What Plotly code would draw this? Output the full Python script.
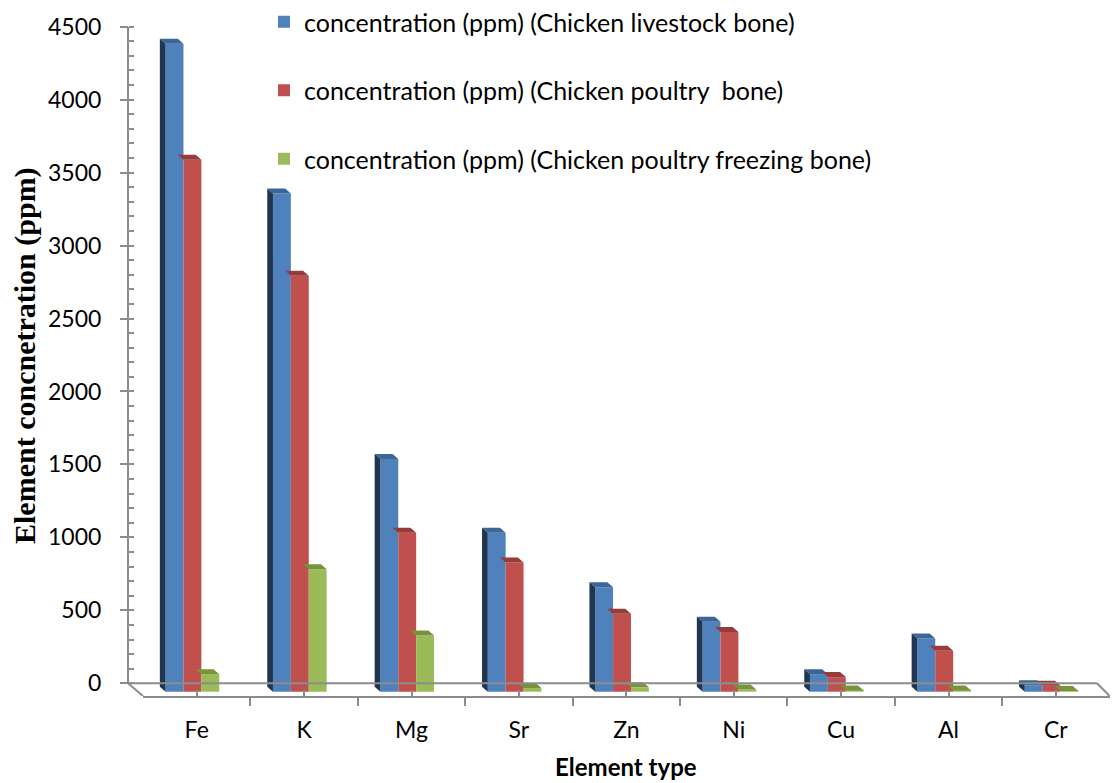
import plotly.graph_objects as go

# ---- data -------------------------------------------------------------
elements = ["Fe", "K", "Mg", "Sr", "Zn", "Ni", "Cu", "Al", "Cr"]
livestock = [4440, 3415, 1595, 1090, 715, 480, 120, 365, 45]
poultry = [3645, 2850, 1090, 885, 535, 410, 100, 280, 40]
freezing = [120, 840, 385, 25, 30, 15, 8, 8, 5]
y_ticks = [0, 500, 1000, 1500, 2000, 2500, 3000, 3500, 4000, 4500]

series_names = [
    "concentration (ppm) (Chicken livestock bone)",
    "concentration (ppm) (Chicken poultry  bone)",
    "concentration (ppm) (Chicken poultry freezing bone)",
]

# ---- geometry (pixels on a 1113 x 783 page, no margins) ---------------
W, H = 1113, 783
AXIS_X = 128.0           # vertical value axis
BACK_RIGHT_X = 1097.0    # right end of the back floor edge
PLOT_L, PLOT_R = 143.0, 1109.6
Y_ZERO, Y_TOP = 683.3, 26.7   # pixel rows of 0 and 4500 on the back wall
FLOOR_FRONT = 696.0           # front floor edge (category axis line)
BAR_BASE = 691.7              # front bottom of the columns
DEPTH_DX, DEPTH_DY = 5.7, 5.0 # column depth projection

k = (Y_ZERO - Y_TOP) / 4500.0
cat_px = (PLOT_R - PLOT_L) / len(elements)
y_range = [-(FLOOR_FRONT - Y_ZERO) / k, 4500]
shift = (BAR_BASE - Y_ZERO) / k
y2_range = [y_range[0] + shift, y_range[1] + shift]
dv = DEPTH_DY / k          # depth step in value units
dx = DEPTH_DX / cat_px     # depth step in category units

bar_w = 0.1667
offsets = [-0.29, -0.1233, 0.0433]
front_cols = ["#4F81BD", "#C0504D", "#9BBB59"]
top_cols = ["#3D6698", "#963C3A", "#77933C"]
side_col = "#1F3552"

FONT = "Lato"
GRAY = "#8C8C8C"

positions = list(range(len(elements)))
data = [livestock, poultry, freezing]
fig = go.Figure()


def top_face(vals, off):
    xs, ys = [], []
    for i, v in zip(positions, vals):
        x0 = i + off
        xs += [x0, x0 + bar_w, x0 + bar_w - dx, x0 - dx, x0, None]
        ys += [v, v, v + dv, v + dv, v, None]
    return xs, ys


def side_face(vals, off):
    xs, ys = [], []
    for i, v in zip(positions, vals):
        x0 = i + off
        xs += [x0, x0, x0 - dx, x0 - dx, x0, None]
        ys += [0, v, v + dv, dv, 0, None]
    return xs, ys


# top faces (drawn first so neighbouring front faces overlap them)
for vals, off, col, grp in zip(data, offsets, top_cols, range(3)):
    xs, ys = top_face(vals, off)
    fig.add_trace(go.Scatter(
        x=xs, y=ys, yaxis="y2", mode="lines", fill="toself",
        fillcolor=col, line=dict(width=0, color=col),
        showlegend=False, hoverinfo="skip", legendgroup=str(grp)))

# shaded left side of the first series
xs, ys = side_face(livestock, offsets[0])
fig.add_trace(go.Scatter(
    x=xs, y=ys, yaxis="y2", mode="lines", fill="toself",
    fillcolor=side_col, line=dict(width=0, color=side_col),
    showlegend=False, hoverinfo="skip", legendgroup="0"))

# front faces
for vals, off, col, name, grp in zip(data, offsets, front_cols, series_names, range(3)):
    fig.add_trace(go.Bar(
        x=positions, y=vals, offset=off, width=bar_w, yaxis="y2",
        name=name, marker=dict(color=col, line=dict(width=0)),
        legendgroup=str(grp)))

# floor outline and value axis line
px = lambda p: p / W
py = lambda p: 1 - p / H
shapes = [
    dict(type="line", xref="paper", yref="y", x0=px(AXIS_X), x1=px(AXIS_X), y0=0, y1=4500,
         line=dict(color=GRAY, width=2)),
    dict(type="line", xref="paper", yref="y", x0=px(AXIS_X), x1=px(BACK_RIGHT_X), y0=0, y1=0,
         line=dict(color=GRAY, width=2)),
    dict(type="line", xref="paper", yref="y", x0=px(AXIS_X), x1=px(PLOT_L), y0=0, y1=y_range[0],
         line=dict(color=GRAY, width=2)),
    dict(type="line", xref="paper", yref="y", x0=px(BACK_RIGHT_X), x1=px(PLOT_R), y0=0, y1=y_range[0],
         line=dict(color=GRAY, width=2)),
]

fig.update_layout(
    width=W, height=H,
    margin=dict(l=0, r=0, t=0, b=0, autoexpand=False),
    paper_bgcolor="white", plot_bgcolor="white",
    barmode="overlay",
    shapes=shapes,
    font=dict(family=FONT, color="black", size=23),
    xaxis=dict(
        type="linear",
        domain=[px(PLOT_L), px(PLOT_R)], range=[-0.5, len(elements) - 0.5],
        automargin=False,
        showline=True, linecolor=GRAY, linewidth=2,
        tickmode="array", tickvals=positions, ticktext=elements,
        ticks="inside", ticklen=6, tickcolor=GRAY, tickwidth=2,
        ticklabelstandoff=12,
        minor=dict(ticks="outside", tick0=-0.5, dtick=1, ticklen=8,
                   tickcolor=GRAY, tickwidth=2, showgrid=False),
        tickfont=dict(family=FONT, size=23),
        showgrid=False, zeroline=False,
    ),
    yaxis=dict(
        domain=[py(FLOOR_FRONT), py(Y_TOP)], range=y_range,
        anchor="free", position=px(AXIS_X), automargin=False,
        showline=False, showgrid=False, zeroline=False,
        tickmode="array", tickvals=y_ticks,
        ticks="outside", ticklen=8, tickcolor=GRAY, tickwidth=2,
        ticklabelstandoff=14,
        tickfont=dict(family=FONT, size=23),
        minor=dict(ticks="inside", dtick=100, tick0=0, ticklen=5, tickcolor=GRAY, tickwidth=2),
    ),
    yaxis2=dict(
        overlaying="y", range=y2_range, visible=False, automargin=False,
    ),
    legend=dict(
        x=px(264), y=py(-1), xanchor="left", yanchor="top",
        font=dict(family=FONT, size=25), traceorder="grouped", tracegroupgap=33,
        bgcolor="rgba(0,0,0,0)", borderwidth=0,
    ),
    annotations=[
        dict(text="<b>Element concnetration (ppm)</b>", textangle=-90,
             xref="paper", yref="paper", x=px(25), y=py(356),
             xanchor="center", yanchor="middle", showarrow=False,
             font=dict(family="Liberation Serif", size=30, color="black")),
        dict(text="<b>Element type</b>",
             xref="paper", yref="paper", x=px(626), y=py(766),
             xanchor="center", yanchor="middle", showarrow=False,
             font=dict(family=FONT, size=24, color="black")),
    ],
)

fig.write_html("out.html")
